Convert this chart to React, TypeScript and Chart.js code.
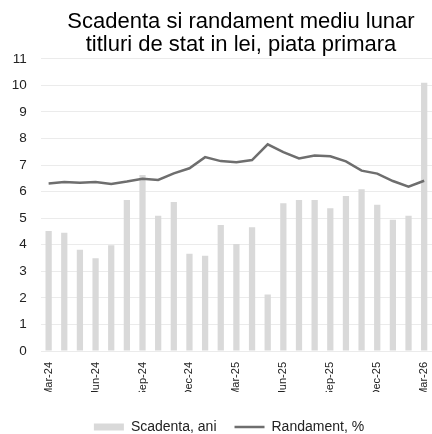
import { useEffect, useRef } from 'react';
import { Chart, registerables } from 'chart.js';

Chart.register(...registerables);

const titleLines = ['Scadenta si randament mediu lunar', 'titluri de stat in lei, piata primara'];
const seriesNames = ['Scadenta, ani', 'Randament, %'];

const categories = [
  'Mar-24', 'Apr-24', 'May-24', 'Jun-24', 'Jul-24', 'Aug-24', 'Sep-24', 'Oct-24', 'Nov-24',
  'Dec-24', 'Jan-25', 'Feb-25', 'Mar-25', 'Apr-25', 'May-25', 'Jun-25', 'Jul-25', 'Aug-25',
  'Sep-25', 'Oct-25', 'Nov-25', 'Dec-25', 'Jan-26', 'Feb-26', 'Mar-26',
];

const scadenta = [
  4.52, 4.45, 3.81, 3.49, 3.98, 5.69, 6.63, 5.09, 5.61, 3.66, 3.59, 4.74, 4.03,
  4.66, 2.13, 5.56, 5.69, 5.69, 5.38, 5.84, 6.09, 5.51, 4.94, 5.09, 10.1,
];

const randament = [
  6.31, 6.36, 6.34, 6.36, 6.29, 6.38, 6.49, 6.44, 6.69, 6.88, 7.3, 7.15, 7.11,
  7.19, 7.78, 7.49, 7.25, 7.36, 7.33, 7.14, 6.79, 6.68, 6.4, 6.19, 6.41,
];

const yMin = 0;
const yMax = 11;
const yStep = 1;
const labelEvery = 3;

const FONT = "'Liberation Sans', Arial, sans-serif";
Chart.defaults.font.family = FONT;

export default function App() {
  const ref = useRef<HTMLCanvasElement | null>(null);

  useEffect(() => {
    if (!ref.current) return;
    const shiftBoxes = {
      id: 'shiftBoxes',
      afterLayout(chart: any) {
        const t = chart.titleBlock;
        if (t) {
          t.left += 25;
          t.right += 25;
        }
        const l = chart.legend;
        if (l) {
          l.left += 13;
          l.right += 13;
          l.top += 10;
          l.bottom += 10;
        }
      },
    };

    const chart: any = new Chart(ref.current, {
      type: 'bar',
      data: {
        labels: categories,
        datasets: [
          {
            type: 'bar',
            label: seriesNames[0],
            data: scadenta,
            backgroundColor: '#d9d9d9',
            borderWidth: 0,
            barPercentage: 0.4,
            categoryPercentage: 1,
            order: 1,
            pointStyle: 'rect',
          },
          {
            type: 'line',
            label: seriesNames[1],
            data: randament,
            borderColor: '#6e6e6e',
            backgroundColor: '#6e6e6e',
            borderWidth: 2.5,
            pointRadius: 0,
            pointHoverRadius: 0,
            tension: 0,
            order: 0,
            pointStyle: 'line',
          },
        ],
      } as any,
      plugins: [shiftBoxes],
      options: {
        animation: false,
        responsive: true,
        maintainAspectRatio: false,
        plugins: {
          title: {
            display: true,
            text: titleLines,
            color: '#000',
            font: { size: 22, weight: 'normal', lineHeight: 1.045 },
            padding: { top: 10, bottom: 2.9 },
          },
          legend: {
            display: true,
            position: 'bottom',
            labels: {
              font: { size: 14 },
              color: '#222',
              usePointStyle: true,
              pointStyleWidth: 30,
              boxWidth: 30,
              boxHeight: 7,
              padding: 18,
              sort: (a: any, b: any) => a.datasetIndex - b.datasetIndex,
            },
          },
          tooltip: { enabled: false },
        },
        scales: {
          x: {
            offset: true,
            grid: { display: false, drawTicks: false },
            border: { display: false },
            ticks: {
              autoSkip: false,
              minRotation: 90,
              maxRotation: 90,
              padding: 11,
              color: '#222',
              font: { size: 11 },
              callback: (_v: any, i: number) => (i % labelEvery === 0 ? categories[i] : ''),
            },
            afterFit: (scale: any) => {
              scale.height = 41;
              scale.paddingLeft = 0;
              scale.paddingRight = 0;
            },
          },
          y: {
            min: yMin,
            max: yMax,
            grid: { color: '#ebebeb', lineWidth: 1, drawTicks: false },
            border: { display: false },
            ticks: {
              stepSize: yStep,
              padding: 14,
              color: '#222',
              font: { size: 13.5 },
            },
            afterFit: (scale: any) => {
              scale.width = 40.8;
            },
          },
        },
      } as any,
    });
    return () => chart.destroy();
  }, []);

  return (
    <div style={{ position: 'fixed', left: 0, top: 0, width: 432, height: 434, background: '#fff' }}>
      <canvas ref={ref} />
    </div>
  );
}
